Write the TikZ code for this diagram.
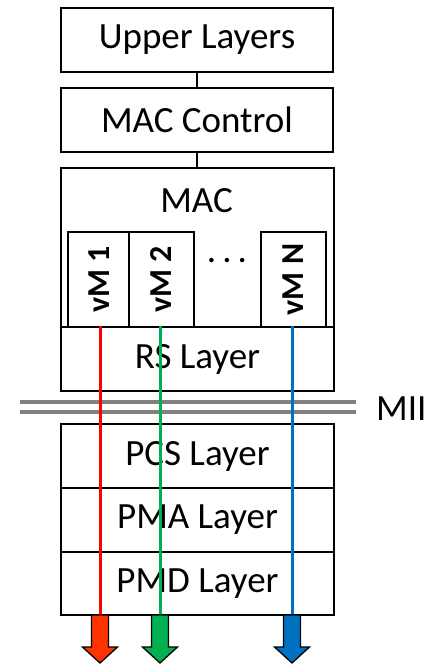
\documentclass[tikz,border=0pt]{standalone}
\usepackage{fontspec}
\setmainfont{Carlito}
\begin{document}
\begin{tikzpicture}[x=1pt,y=-1pt,
  box/.style={draw=black, line width=2pt, fill=white, inner sep=0pt, anchor=north west, font=\fontsize{37}{40}\selectfont},
  vmbox/.style={draw=black, line width=2pt, inner sep=0pt, anchor=north west},
  lbl/.style={inner sep=0pt, font=\fontsize{37}{40}\selectfont},
  vmlbl/.style={inner sep=0pt, rotate=90, font=\fontsize{32}{34}\selectfont\bfseries},
  link/.style={draw=black, line width=2pt},
  mii/.style={draw=miigray, line width=4.5pt},
  sig/.style={line width=3pt},
  blockarrow/.style={draw=black, line width=1.3pt, line join=miter}
]
\definecolor{miigray}{HTML}{808080}
\definecolor{sigred}{HTML}{FF0000}
\definecolor{siggreen}{HTML}{00B050}
\definecolor{sigblue}{HTML}{0070C0}
\definecolor{arrred}{HTML}{FF3300}
\useasboundingbox (0,0) rectangle (436,664);

% upper stack
\node[box, minimum width=272pt, minimum height=64pt] (upper) at (60,7) {Upper Layers};
\node[box, minimum width=272pt, minimum height=64pt] (macctl) at (60,87) {MAC Control};
\node[box, minimum width=273pt, minimum height=223pt] (mac) at (60,167) {};
\node[lbl] (maclbl) at (196.5,201) {MAC};
\draw[link] (upper.south) -- (macctl.north);
\draw[link] (macctl.south) -- (mac.north -| macctl.south);

% vM boxes
\node[vmbox, minimum width=61pt, minimum height=95pt] (vm1) at (67,231) {};
\node[vmbox, minimum width=65pt, minimum height=95pt] (vm2) at (128,231) {};
\node[vmbox, minimum width=65pt, minimum height=95pt] (vmn) at (260,231) {};
\node[vmlbl] (vm1lbl) at ([xshift=1pt]vm1.center) {vM 1};
\node[vmlbl] (vm2lbl) at (vm2.center) {vM 2};
\node[vmlbl] (vmnlbl) at (vmn.center) {vM N};
\node[lbl, anchor=base] (dots) at (227,262) {.\hspace{6pt}.\hspace{6pt}.};

% RS layer
\node[box, minimum width=273pt, minimum height=64pt] (rs) at (60,326) {RS Layer};

% MII
\coordinate (miiA1) at (20,402);
\coordinate (miiA2) at (356,402);
\coordinate (miiB1) at (20,412);
\coordinate (miiB2) at (356,412);
\draw[mii] (miiA1) -- (miiA2);
\draw[mii] (miiB1) -- (miiB2);
\node[lbl, anchor=west] (miilbl) at (376,409) {MII};

% lower stack
\node[box, minimum width=273pt, minimum height=64pt] (pcs) at (60,423) {PCS Layer};
\node[box, minimum width=273pt, minimum height=64pt] (pma) at (60,487) {PMA Layer};
\node[box, minimum width=273pt, minimum height=63pt] (pmd) at (60,551) {PMD Layer};

% signal lines
\coordinate (rtop) at (100,326);
\coordinate (rbot) at (100,615);
\coordinate (gtop) at (160,326);
\coordinate (gbot) at (160,615);
\coordinate (btop) at (292,326);
\coordinate (bbot) at (292,615);
\draw[sig, draw=sigred] (rtop) -- (rbot);
\draw[sig, draw=siggreen] (gtop) -- (gbot);
\draw[sig, draw=sigblue] (btop) -- (bbot);

% block arrows
\foreach \cx/\col in {100/arrred, 160/siggreen, 292/sigblue}{
  \draw[blockarrow, fill=\col] (\cx-8.5,615) -- (\cx+8.5,615) -- (\cx+8.5,647) -- (\cx+17.5,647)
    -- (\cx,663) -- (\cx-17.5,647) -- (\cx-8.5,647) -- cycle;
}
\end{tikzpicture}
\end{document}
